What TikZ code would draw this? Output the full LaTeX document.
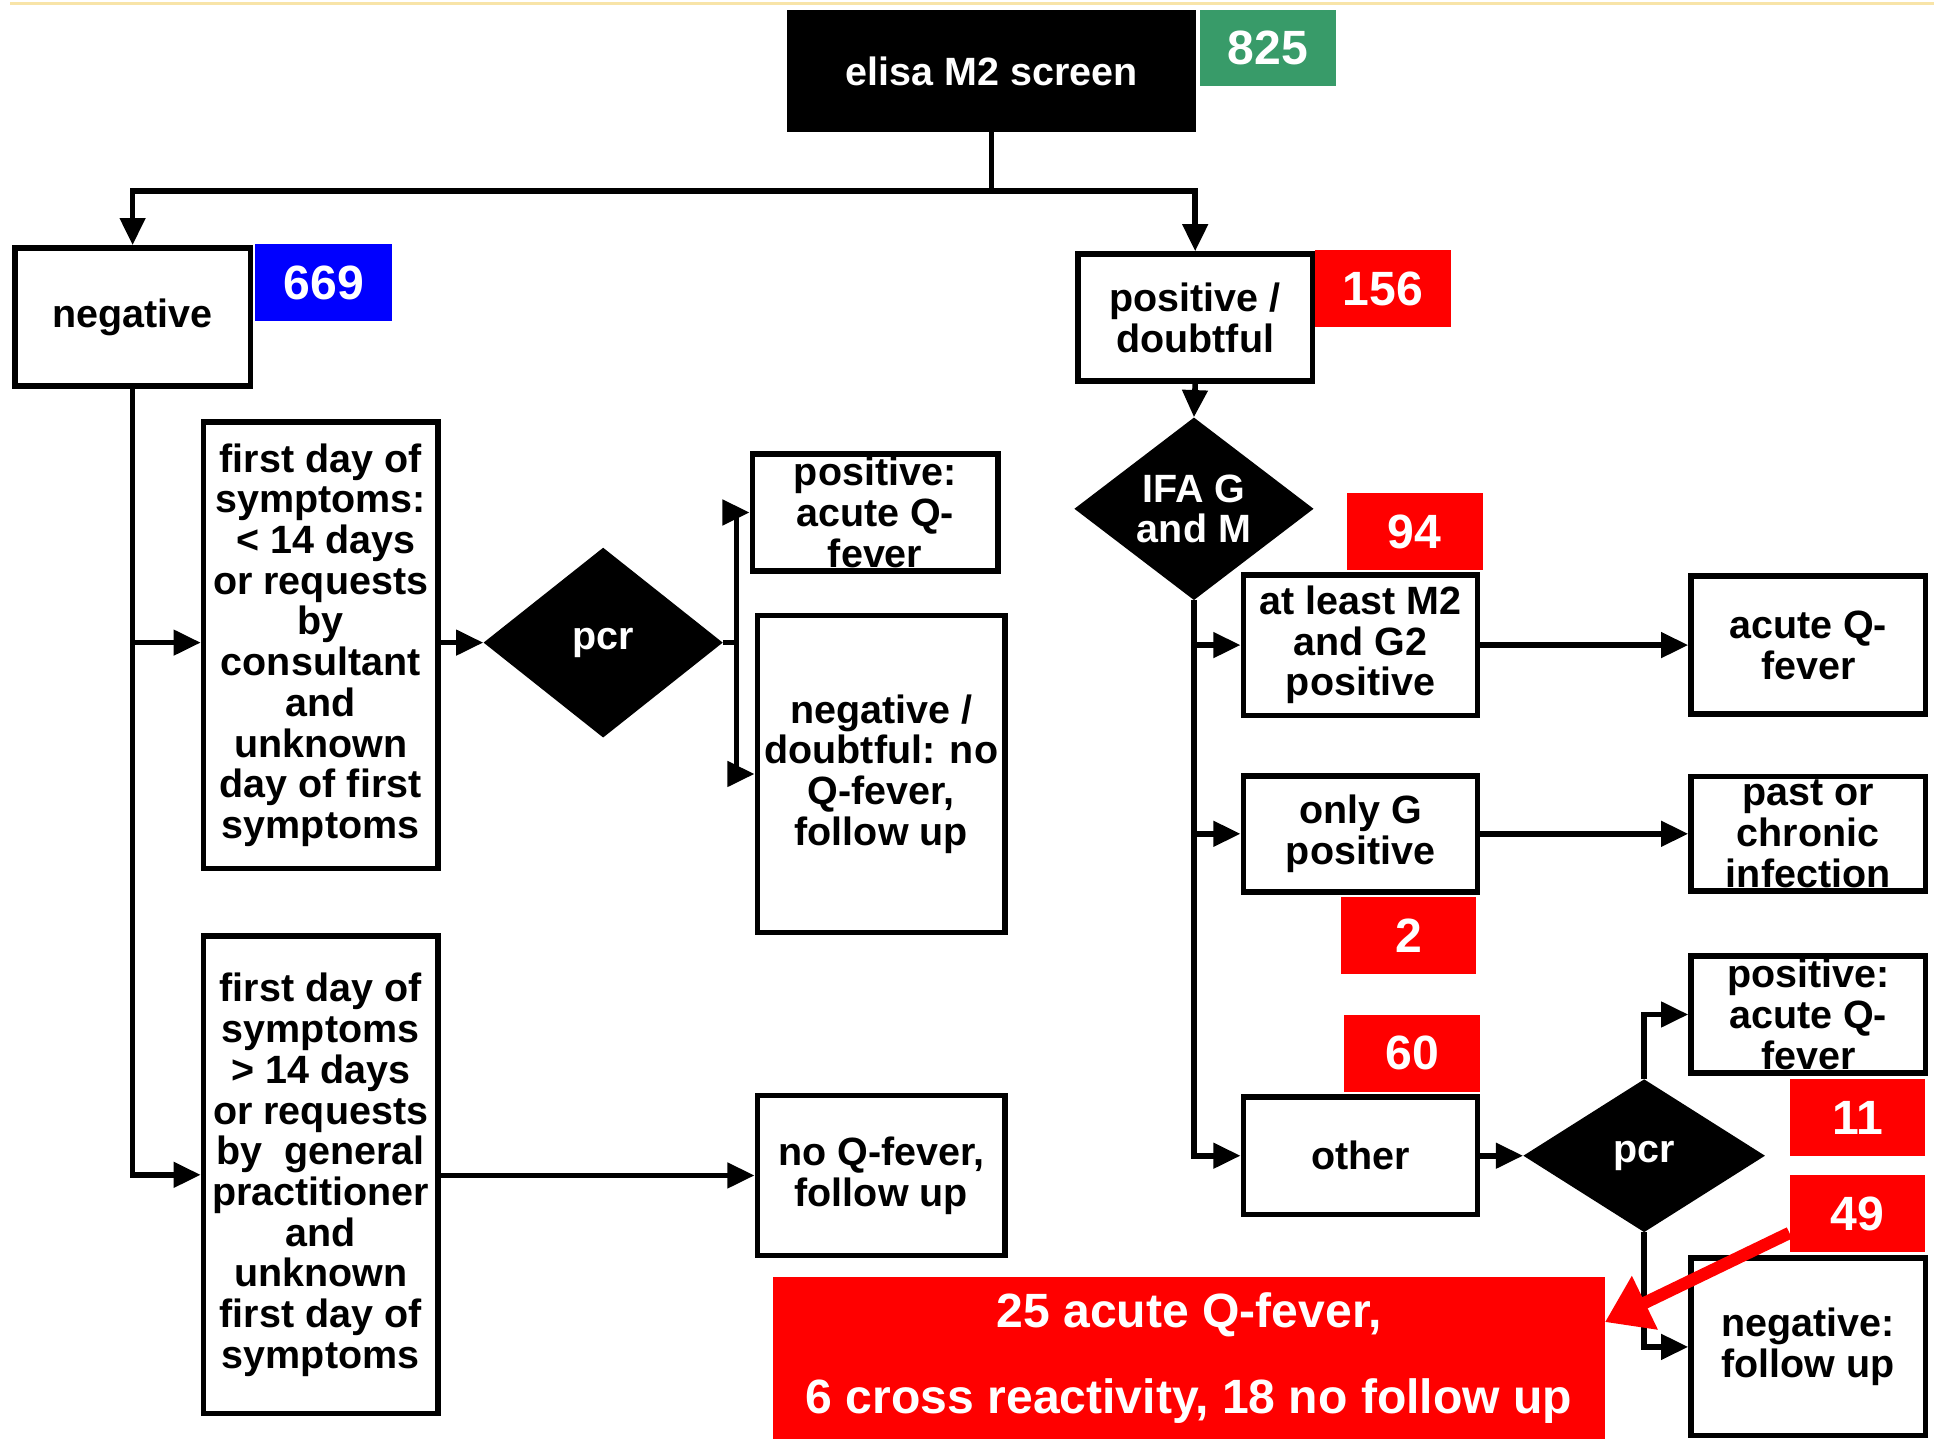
\documentclass[tikz,border=0pt]{standalone}
\usepackage{fontspec}
\setmainfont{Liberation Sans}
\usetikzlibrary{arrows.meta,shapes.geometric,calc}
\definecolor{qgreen}{RGB}{56,155,105}
\definecolor{qred}{RGB}{255,0,0}
\definecolor{qblue}{RGB}{0,0,255}
\definecolor{qyellow}{RGB}{248,228,168}
\begin{document}
\begin{tikzpicture}[x=1pt,y=-1pt,
  box/.style={draw=black,line width=4.5pt,fill=white,inner sep=0pt,align=center,font=\fontsize{32}{33}\selectfont\bfseries},
  num/.style={inner sep=0pt,text=white,align=center,font=\fontsize{39}{40}\selectfont\bfseries,minimum width=110pt,minimum height=62pt},
  dia/.style={diamond,fill=black,inner sep=0pt,text=white,align=center,font=\fontsize{32}{33}\selectfont\bfseries},
  conn/.style={line width=4.5pt,-{Triangle[length=22pt,width=20pt]}},
  plain/.style={line width=4.5pt}]
\useasboundingbox (0,0) rectangle (1568,1167);
\draw[qyellow,line width=2pt] (8,3) -- (1568,3);

\node[fill=black,minimum width=332pt,minimum height=99pt,inner sep=0pt,text=white,font=\fontsize{32}{33}\selectfont\bfseries] (elisa) at (804,57.5) {elisa M2 screen};
\node[num,fill=qgreen] (n825) at (1028,39) {825};
\node[box,minimum width=191pt,minimum height=112pt] (neg) at (107.5,257) {negative};
\node[num,fill=qblue,minimum width=111pt] (n669) at (262.5,229) {669};
\node[box,minimum width=190pt,minimum height=103pt] (posd) at (969,257.5) {positive /\\doubtful};
\node[num,fill=qred] (n156) at (1121,234) {156};

\node[box,minimum width=190pt,minimum height=362pt] (early) at (260,523) {first day of\\symptoms:\\\ < 14 days\\or requests\\by\\consultant\\and\\unknown\\day of first\\symptoms};
\node[box,minimum width=190pt,minimum height=387pt] (late) at (260,952.5) {first day of\\symptoms\\> 14 days\\or requests\\by~ general\\practitioner\\and\\unknown\\first day of\\symptoms};
\node[dia,minimum width=194pt,minimum height=154pt] (pcrA) at (489,521) {pcr};
\node[box,minimum width=199pt,minimum height=95pt] (posA) at (709.5,415.5) {positive:\\acute Q-\\fever};
\node[box,minimum width=201pt,minimum height=257pt] (negA) at (714.5,627.5) {negative /\\doubtful: no\\Q-fever,\\follow up};
\node[box,minimum width=201pt,minimum height=130pt] (noq) at (714.5,953) {no Q-fever,\\follow up};

\node[dia,minimum width=194pt,minimum height=145pt] (ifa) at (968,412.5) {IFA G\\and M};
\node[box,minimum width=190pt,minimum height=114pt] (m2g2) at (1103,523) {at least M2\\and G2\\positive};
\node[num,fill=qred] (n94) at (1147,431) {94};
\node[box,minimum width=190pt,minimum height=112pt] (acute) at (1466,523) {acute Q-\\fever};
\node[box,minimum width=190pt,minimum height=94pt] (onlyg) at (1103,676) {only G\\positive};
\node[box,minimum width=190pt,minimum height=93pt] (past) at (1466,676) {past or\\chronic\\infection};
\node[num,fill=qred] (n2) at (1142,758.5) {2};
\node[num,fill=qred] (n60) at (1145,854) {60};
\node[box,minimum width=190pt,minimum height=95pt] (other) at (1103,937) {other};
\node[dia,minimum width=196pt,minimum height=124pt] (pcrB) at (1333,937) {pcr};
\node[box,minimum width=190pt,minimum height=95pt] (posB) at (1466,822.5) {positive:\\acute Q-\\fever};
\node[num,fill=qred] (n11) at (1506,906) {11};
\node[num,fill=qred] (n49) at (1506,984) {49};
\node[box,minimum width=190pt,minimum height=144pt] (negB) at (1466,1092) {negative:\\follow up};

\coordinate (j0) at (804,155);
\draw[plain] (elisa.south) -- (j0);
\draw[conn] (j0) -| (neg.north);
\draw[conn] (j0) -| (posd.north);
\draw[conn] (neg.south) |- (late.west);
\draw[conn] (neg.south |- pcrA.west) -- (early.west |- pcrA.west);
\draw[conn] (early.east |- pcrA.west) -- (pcrA.west);
\coordinate (j1) at (597,521);
\draw[plain] (pcrA.east) -- (j1);
\draw[conn] (j1) |- (posA.west);
\draw[conn] (j1) |- (negA.west);
\draw[conn] (late.east |- noq.west) -- (noq.west);

\draw[conn] (posd.south) -- (ifa.north);
\draw[conn] (ifa.south) |- (other.west);
\draw[conn] (ifa.south |- m2g2.west) -- (m2g2.west);
\draw[conn] (ifa.south |- onlyg.west) -- (onlyg.west);
\draw[conn] (m2g2.east) -- (acute.west);
\draw[conn] (onlyg.east) -- (past.west);
\draw[conn] (other.east) -- (pcrB.west);
\draw[conn] (pcrB.north) |- (posB.west);
\draw[conn] (pcrB.south) |- (negB.west);

\node[fill=qred,minimum width=674pt,minimum height=132pt,inner sep=0pt,text=white,align=center,font=\fontsize{39}{70}\selectfont\bfseries] (sum) at (964,1101) {25 acute Q-fever,\\6 cross reactivity, 18 no follow up};
\draw[qred,line width=10pt,-{Triangle[length=36pt,width=46pt]}] ($(n49.south west)!0.25!(n49.north west)$) -- ($(sum.north east)!0.28!(sum.south east)$);
\end{tikzpicture}
\end{document}
